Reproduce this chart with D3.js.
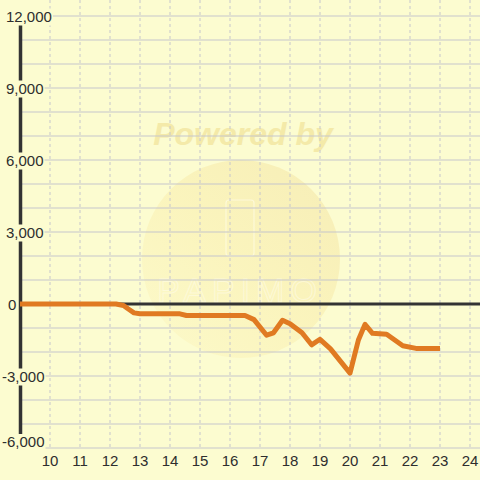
<!DOCTYPE html>
<html><head><meta charset="utf-8">
<script src="https://cdn.jsdelivr.net/npm/d3@7"></script>
<style>html,body{margin:0;padding:0;background:#fcfcd0;}svg{display:block;}</style>
</head><body>
<script>
const xValues = [9, 12.2, 12.45, 12.6, 12.8, 13.0, 14.33, 14.55, 16.5, 16.8, 17.22, 17.45, 17.75, 18.0, 18.4, 18.72, 19.0, 19.35, 20.0, 20.28, 20.5, 20.75, 21.22, 21.76, 22.2, 23.0];
const yValues = [0, 0, -60, -200, -370, -410, -410, -480, -480, -650, -1300, -1200, -680, -820, -1200, -1700, -1470, -1870, -2880, -1500, -850, -1220, -1260, -1740, -1850, -1850];
const xTicks = [10,11,12,13,14,15,16,17,18,19,20,21,22,23,24];
const yTicks = [12000, 9000, 6000, 3000, 0, -3000, -6000];
const yGrid = d3.range(-6000, 12001, 1000);

const W = 480, H = 480, BG = "#fcfcd0";
const svg = d3.select("body").append("svg").attr("width", W).attr("height", H);
svg.append("rect").attr("width", W).attr("height", H).attr("fill", BG);

const x = d3.scaleLinear().domain([9, 24.3333]).range([20, 480]);
const y = d3.scaleLinear().domain([-6000, 12000]).range([448, 16]);

// watermark
const defs = svg.append("defs");
const g1 = defs.append("linearGradient").attr("id","wm").attr("x1","1").attr("y1","0").attr("x2","0").attr("y2","1");
g1.append("stop").attr("offset","0").attr("stop-color","#f5eab0");
g1.append("stop").attr("offset","0.5").attr("stop-color","#faf2b8");
g1.append("stop").attr("offset","1").attr("stop-color","#fcf9c8");
svg.append("circle").attr("cx",241).attr("cy",259).attr("r",99).attr("fill","url(#wm)").attr("opacity",0.8);
svg.append("rect").attr("x",226).attr("y",200).attr("width",28).attr("height",56).attr("rx",3)
  .attr("fill","none").attr("stroke","#fffce6").attr("stroke-width",1.2).attr("opacity",0.7);
svg.append("text").attr("x",240).attr("y",302).attr("text-anchor","middle")
  .attr("font-family","Liberation Sans, Arial, sans-serif").attr("font-size",34).attr("letter-spacing",6)
  .attr("fill","none").attr("stroke","#fffce6").attr("stroke-width",1).attr("opacity",0.6).text("PAPIMO");
svg.append("text").attr("x",243).attr("y",145).attr("text-anchor","middle")
  .attr("font-family","Liberation Sans, Arial, sans-serif").attr("font-size",32)
  .attr("font-weight","bold").attr("font-style","italic").attr("fill","#f2e49c").attr("opacity",0.75).text("Powered by");

// grid
svg.append("g").selectAll("line").data(yGrid).join("line")
  .attr("x1", 20).attr("x2", 480).attr("y1", d => y(d)).attr("y2", d => y(d))
  .attr("stroke", "#c6c6cc").attr("stroke-width", 1.2);
svg.append("g").selectAll("line").data(xTicks).join("line")
  .attr("x1", d => x(d)).attr("x2", d => x(d)).attr("y1", 0).attr("y2", y(-6000))
  .attr("stroke", "#c6c6cc").attr("stroke-width", 1).attr("stroke-dasharray", "3,3");

// zero line
svg.append("line").attr("x1", 20).attr("x2", 480).attr("y1", y(0)).attr("y2", y(0))
  .attr("stroke", "#333").attr("stroke-width", 3);
// y axis line
svg.append("line").attr("x1", 20.5).attr("x2", 20.5).attr("y1", y(12000)).attr("y2", y(-6000))
  .attr("stroke", "#333").attr("stroke-width", 3.5);

// series
const line = d3.line().x((d,i) => x(xValues[i])).y((d,i) => y(yValues[i]));
svg.append("path").datum(yValues).attr("d", line).attr("fill","none")
  .attr("stroke","#e07a22").attr("stroke-width",5).attr("stroke-linejoin","round").attr("stroke-linecap","butt");

// y labels with background boxes
const fmt = d3.format(",");
const yl = svg.append("g").attr("font-family","Liberation Sans, Arial, sans-serif").attr("font-size",15).attr("fill","#2e2e2e");
yTicks.forEach(v => {
  const label = fmt(v).replace("−","-");
  const tx = v < 0 ? 2 : (v === 0 ? 8 : 6);
  const ty = v === -6000 ? y(v) - 1 : y(v) + 5.5;
  const t = yl.append("text").attr("x", tx).attr("y", ty).text(label);
  const bb = t.node().getBBox();
  yl.insert("rect", "text").attr("x", bb.x - 1).attr("y", bb.y + 1).attr("width", bb.width + 2).attr("height", bb.height)
    .attr("fill", BG);
});
// x labels
svg.append("g").attr("font-family","Liberation Sans, Arial, sans-serif").attr("font-size",15).attr("fill","#2e2e2e")
  .selectAll("text").data(xTicks).join("text")
  .attr("x", d => x(d)).attr("y", 466).attr("text-anchor","middle").text(d => d);
</script>
</body></html>
